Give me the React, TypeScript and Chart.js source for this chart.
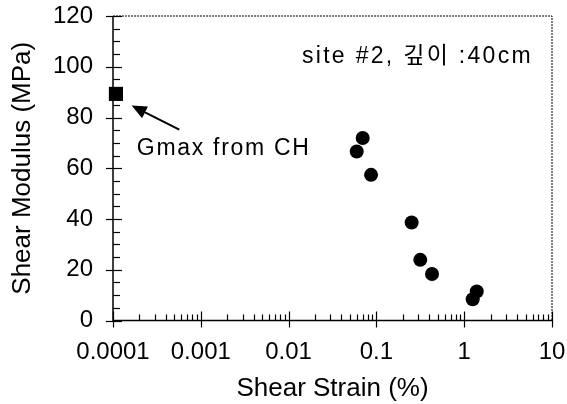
import { useEffect, useRef } from 'react';
import { Chart, registerables } from 'chart.js';

Chart.register(...registerables);

// ---- data ----
const xTickValues = [0.0001, 0.001, 0.01, 0.1, 1, 10];
const xTickLabels = ['0.0001', '0.001', '0.01', '0.1', '1', '10'];
const yTickStep = 20;
const yMinorStep = 5;
const yMin = 0;
const yMax = 120;

// Gmax from cross-hole test
const gmaxStrain = [0.000108];
const gmaxModulus = [89.3];

// resonant column / torsional results
const strain = [0.0698, 0.0597, 0.0869, 0.252, 0.316, 0.43, 1.39, 1.25];
const modulus = [71.9, 66.6, 57.4, 38.6, 23.9, 18.3, 11.4, 8.4];

const xTitle = 'Shear Strain (%)';
const yTitle = 'Shear Modulus (MPa)';
const siteLabel = 'site #2, 깊이 :40cm';
const gmaxLabel = 'Gmax from CH';

// annotation anchors (data coordinates)
const siteLabelAt = { x: 0.0142, y: 101.5 };
const gmaxLabelAt = { x: 0.000187, y: 65.3 };
const arrowFrom = { x: 0.000569, y: 75.2 };
const arrowTo = { x: 0.000163, y: 84.7 };

const FONT = "'Liberation Sans', Arial, 'Noto Sans CJK KR', sans-serif";

const isPow10 = (v: number) => Math.abs(Math.log10(v) - Math.round(Math.log10(v))) < 1e-6;

const zeroPad = (scale: any) => {
  scale.paddingTop = 0;
  scale.paddingBottom = 0;
  scale.paddingLeft = 0;
  scale.paddingRight = 0;
};

const axesPlugin = {
  id: 'axesDecor',
  beforeDatasetsDraw(chart: any) {
    const { ctx, chartArea: a, scales } = chart;
    const xs = scales.x;
    const ys = scales.y;
    ctx.save();
    ctx.strokeStyle = '#000';
    // top & right frame (dashed, scanned look)
    ctx.lineWidth = 1;
    ctx.setLineDash([2, 1]);
    ctx.beginPath();
    ctx.moveTo(a.left, a.top);
    ctx.lineTo(a.right, a.top);
    ctx.lineTo(a.right, a.bottom);
    ctx.stroke();
    ctx.setLineDash([]);
    // left & bottom axes
    ctx.lineWidth = 1.5;
    ctx.beginPath();
    ctx.moveTo(a.left, a.top);
    ctx.lineTo(a.left, a.bottom);
    ctx.lineTo(a.right, a.bottom);
    ctx.stroke();
    // x ticks
    ctx.lineWidth = 1.2;
    const d0 = Math.round(Math.log10(xTickValues[0]));
    const d1 = Math.round(Math.log10(xTickValues[xTickValues.length - 1]));
    for (let d = d0; d <= d1; d++) {
      for (let m = 1; m <= 9; m++) {
        const v = m * Math.pow(10, d);
        if (d === d1 && m > 1) break;
        const px = Math.round(xs.getPixelForValue(v)) + 0.5;
        ctx.beginPath();
        if (isPow10(v)) {
          ctx.moveTo(px, a.bottom - 9);
          ctx.lineTo(px, a.bottom + 7);
        } else {
          ctx.moveTo(px, a.bottom);
          ctx.lineTo(px, a.bottom - 6);
        }
        ctx.stroke();
      }
    }
    // y ticks
    for (let v = yMin; v <= yMax; v += yMinorStep) {
      const py = Math.round(ys.getPixelForValue(v)) + 0.5;
      ctx.beginPath();
      if (v % yTickStep === 0) {
        ctx.moveTo(a.left - 7, py);
        ctx.lineTo(a.left + 9, py);
      } else {
        ctx.moveTo(a.left, py);
        ctx.lineTo(a.left + 7, py);
      }
      ctx.stroke();
    }
    ctx.restore();
  },
  afterDraw(chart: any) {
    const { ctx, scales } = chart;
    const xs = scales.x;
    const ys = scales.y;
    ctx.save();
    ctx.fillStyle = '#000';
    ctx.strokeStyle = '#000';
    ctx.font = `23px ${FONT}`;
    ctx.textBaseline = 'alphabetic';
    ctx.textAlign = 'left';
    (ctx as any).letterSpacing = '2.3px';
    ctx.fillText(siteLabel, xs.getPixelForValue(siteLabelAt.x), ys.getPixelForValue(siteLabelAt.y));
    (ctx as any).letterSpacing = '1.7px';
    ctx.fillText(gmaxLabel, xs.getPixelForValue(gmaxLabelAt.x), ys.getPixelForValue(gmaxLabelAt.y));
    (ctx as any).letterSpacing = '0px';
    // arrow
    const fx = xs.getPixelForValue(arrowFrom.x);
    const fy = ys.getPixelForValue(arrowFrom.y);
    const tx = xs.getPixelForValue(arrowTo.x);
    const ty = ys.getPixelForValue(arrowTo.y);
    const ang = Math.atan2(fy - ty, fx - tx);
    const headLen = 15;
    const halfW = 6.5;
    const bx = tx + Math.cos(ang) * headLen;
    const by = ty + Math.sin(ang) * headLen;
    ctx.lineWidth = 2;
    ctx.beginPath();
    ctx.moveTo(fx, fy);
    ctx.lineTo(bx, by);
    ctx.stroke();
    ctx.beginPath();
    ctx.moveTo(tx, ty);
    ctx.lineTo(bx - Math.sin(ang) * halfW, by + Math.cos(ang) * halfW);
    ctx.lineTo(bx + Math.sin(ang) * halfW, by - Math.cos(ang) * halfW);
    ctx.closePath();
    ctx.fill();
    ctx.restore();
  },
};

export default function App() {
  const ref = useRef<HTMLCanvasElement | null>(null);

  useEffect(() => {
    if (!ref.current) return;
    const chart = new Chart(ref.current, {
      type: 'scatter',
      data: {
        datasets: [
          {
            label: 'Gmax',
            data: gmaxStrain.map((x, i) => ({ x, y: gmaxModulus[i] })),
            pointStyle: 'rect',
            pointRadius: 10,
            backgroundColor: '#000',
            borderWidth: 0,
            clip: false as any,
          },
          {
            label: 'G',
            data: strain.map((x, i) => ({ x, y: modulus[i] })),
            pointStyle: 'circle',
            pointRadius: 7,
            backgroundColor: '#000',
            borderWidth: 0,
            clip: false as any,
          },
        ],
      },
      options: {
        animation: false,
        responsive: false,
        layout: { padding: { top: 16, right: 15, left: 0, bottom: 0 } },
        plugins: { legend: { display: false }, tooltip: { enabled: false } },
        scales: {
          x: {
            type: 'logarithmic',
            min: xTickValues[0],
            max: xTickValues[xTickValues.length - 1],
            afterBuildTicks: (scale: any) => {
              scale.ticks = xTickValues.map((v) => ({ value: v, major: true }));
            },
            afterFit: (scale: any) => {
              scale.height = 83.5;
              zeroPad(scale);
            },
            grid: { display: false, drawTicks: false },
            border: { display: false },
            ticks: {
              autoSkip: false,
              maxRotation: 0,
              padding: 17,
              color: '#000',
              font: { family: FONT, size: 24 },
              callback: (_v: any, i: number) => xTickLabels[i],
            },
            title: {
              display: true,
              text: xTitle,
              color: '#000',
              font: { family: FONT, size: 26 },
              padding: { top: 0, bottom: 0 },
            },
          },
          y: {
            min: yMin,
            max: yMax,
            afterFit: (scale: any) => {
              scale.width = 113;
              zeroPad(scale);
            },
            grid: { display: false, drawTicks: false },
            border: { display: false },
            ticks: {
              stepSize: yTickStep,
              padding: 20,
              color: '#000',
              font: { family: FONT, size: 24 },
            },
            title: {
              display: true,
              text: yTitle,
              color: '#000',
              font: { family: FONT, size: 26 },
              padding: { top: 7, bottom: 0 },
            },
          },
        },
      },
      plugins: [axesPlugin],
    });
    return () => chart.destroy();
  }, []);

  return (
    <div style={{ position: 'fixed', left: 0, top: 0, width: 567, height: 404, background: '#fff' }}>
      <canvas ref={ref} width={567} height={404} style={{ display: 'block' }} />
    </div>
  );
}
